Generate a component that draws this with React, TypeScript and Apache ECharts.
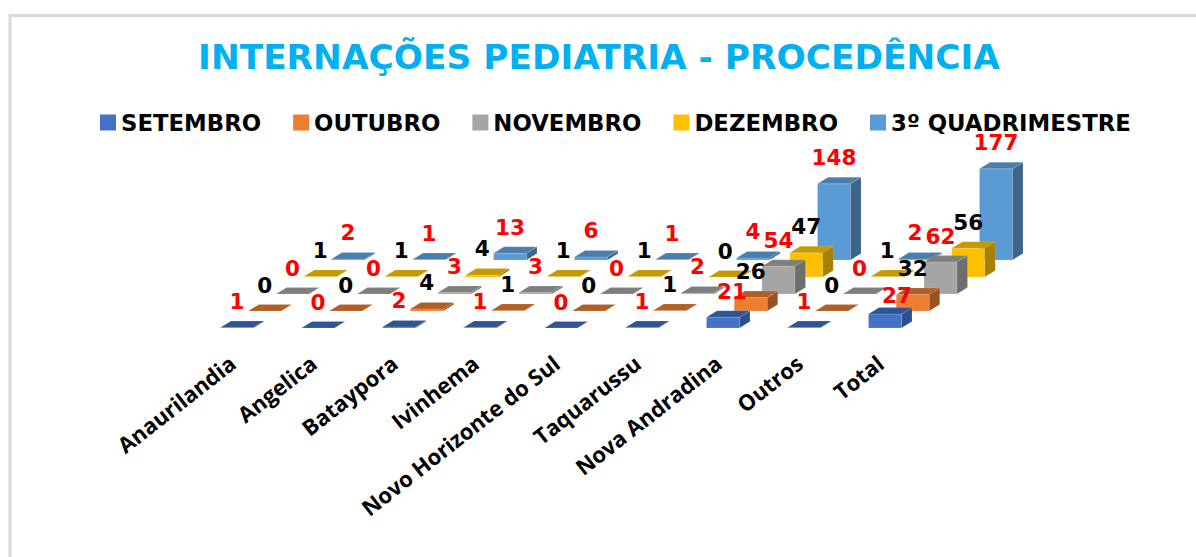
import React, { useEffect, useRef } from "react";
import * as echarts from "echarts";

const categories = ["Anaurilandia", "Angelica", "Bataypora", "Ivinhema", "Novo Horizonte do Sul", "Taquarussu", "Nova Andradina", "Outros", "Total"];
const setembro = [1, 0, 2, 1, 0, 1, 21, 1, 27];
const outubro = [0, 0, 4, 1, 0, 1, 26, 0, 32];
const novembro = [0, 0, 3, 3, 0, 2, 54, 0, 62];
const dezembro = [1, 1, 4, 1, 1, 0, 47, 1, 56];
const quadrimestre = [2, 1, 13, 6, 1, 4, 148, 2, 177];

const rows = [
  { name: "SETEMBRO", values: setembro, front: "#4472C4", top: "#2F5597", side: "#2E4F8A", label: "#FF0000" },
  { name: "OUTUBRO", values: outubro, front: "#ED7D31", top: "#B25F25", side: "#97531F", label: "#000000" },
  { name: "NOVEMBRO", values: novembro, front: "#A5A5A5", top: "#7F7F7F", side: "#6E6E6E", label: "#FF0000" },
  { name: "DEZEMBRO", values: dezembro, front: "#FFC000", top: "#C49A00", side: "#A88000", label: "#000000" },
  { name: "3º QUADRIMESTRE", values: quadrimestre, front: "#5B9BD5", top: "#4A7EAB", side: "#3C6689", label: "#FF0000" },
];

const ROW_DX = 27.75;
const ROW_DY = -17;
const BAR_W = 33;
const DEPTH_X = 10.5;
const DEPTH_Y = -6.5;
const LABEL_FONT = "DejaVu Sans";

function boxRenderer(row: number, r: (typeof rows)[number]) {
  return (_p: any, api: any) => {
    const i = api.value(0);
    const v = api.value(1);
    const base = api.coord([i, 0]);
    const top = api.coord([i, v]);
    const x0 = base[0] + row * ROW_DX - BAR_W / 2;
    const x1 = x0 + BAR_W;
    const yb = base[1] + row * ROW_DY;
    const yt = top[1] + row * ROW_DY;
    const poly = (points: number[][], fill: string) => ({
      type: "polygon",
      silent: true,
      shape: { points },
      style: { fill, stroke: "rgba(255,255,255,0.25)", lineWidth: 0.5 },
    });
    return {
      type: "group",
      children: [
        poly([[x0, yb], [x1, yb], [x1, yt], [x0, yt]], r.front),
        poly([[x1, yb], [x1 + DEPTH_X, yb + DEPTH_Y], [x1 + DEPTH_X, yt + DEPTH_Y], [x1, yt]], r.side),
        poly([[x0, yt], [x1, yt], [x1 + DEPTH_X, yt + DEPTH_Y], [x0 + DEPTH_X, yt + DEPTH_Y]], r.top),
      ],
    };
  };
}

function labelRenderer(_p: any, api: any) {
  const i = api.value(0);
  const v = api.value(1);
  const row = api.value(2);
  const top = api.coord([i, v]);
  // the two front-row labels of the large categories sit off-centre in the picture
  const nudgeX = row === 0 && i === 8 ? 12 : row === 0 && i === 6 ? 9 : 0;
  const nudgeY = row === 0 && i === 8 ? 7 : 0;
  return {
    type: "text",
    x: top[0] + row * ROW_DX + nudgeX,
    y: top[1] + row * ROW_DY - 26 + nudgeY,
    style: {
      text: String(v),
      fill: rows[row].label,
      font: `bold 21.5px "${LABEL_FONT}"`,
      align: "center",
      verticalAlign: "middle",
    },
  };
}

export default function App() {
  const ref = useRef<HTMLDivElement>(null);
  useEffect(() => {
    document.body.style.margin = "0";
    const chart = echarts.init(ref.current!, null, { renderer: "svg" });
    const labelData: number[][] = [];
    rows.forEach((r, row) => r.values.forEach((v, i) => labelData.push([i, v, row])));
    chart.setOption({
      animation: false,
      backgroundColor: "#ffffff",
      title: {
        text: "INTERNAÇÕES PEDIATRIA - PROCEDÊNCIA",
        left: 594,
        textAlign: "center",
        top: 35,
        textStyle: { color: "#00B0F0", fontFamily: LABEL_FONT, fontWeight: "bold", fontSize: 34.4 },
      },
      legend: {
        data: rows.map((r) => r.name),
        left: 95,
        top: 106,
        icon: "rect",
        itemWidth: 16,
        itemHeight: 16,
        itemGap: 32,
        selectedMode: false,
        textStyle: { fontFamily: LABEL_FONT, fontWeight: "bold", fontSize: 22.8, color: "#000" },
      },
      grid: { left: 196.5, width: 729, top: 225, height: 103 },
      xAxis: {
        type: "category",
        data: categories,
        axisLine: { show: false },
        axisTick: { show: false },
        axisLabel: {
          rotate: 38,
          margin: 28,
          padding: [0, 6, 0, 0],
          interval: 0,
          color: "#000",
          fontFamily: "Open Sans",
          fontWeight: "bold",
          fontSize: 22,
        },
      },
      yAxis: { type: "value", min: 0, max: 200, show: false },
      series: [
        ...rows.map((r, row) => ({
          type: "custom",
          name: r.name,
          z: 10 - row,
          itemStyle: { color: r.front },
          renderItem: boxRenderer(row, r),
          data: r.values.map((v, i) => [i, v]),
          clip: false,
        })),
        {
          type: "custom",
          name: "labels",
          z: 20,
          renderItem: labelRenderer,
          data: labelData,
          clip: false,
        },
      ],
      graphic: [
        {
          type: "polyline",
          silent: true,
          shape: { points: [[10, 557], [10, 15.5], [1196, 15.5]] },
          style: { fill: "none", stroke: "#D9D9D9", lineWidth: 3 },
        },
      ],
    });
    return () => chart.dispose();
  }, []);
  return <div ref={ref} style={{ position: "fixed", left: 0, top: 0, width: 1196, height: 557 }} />;
}
